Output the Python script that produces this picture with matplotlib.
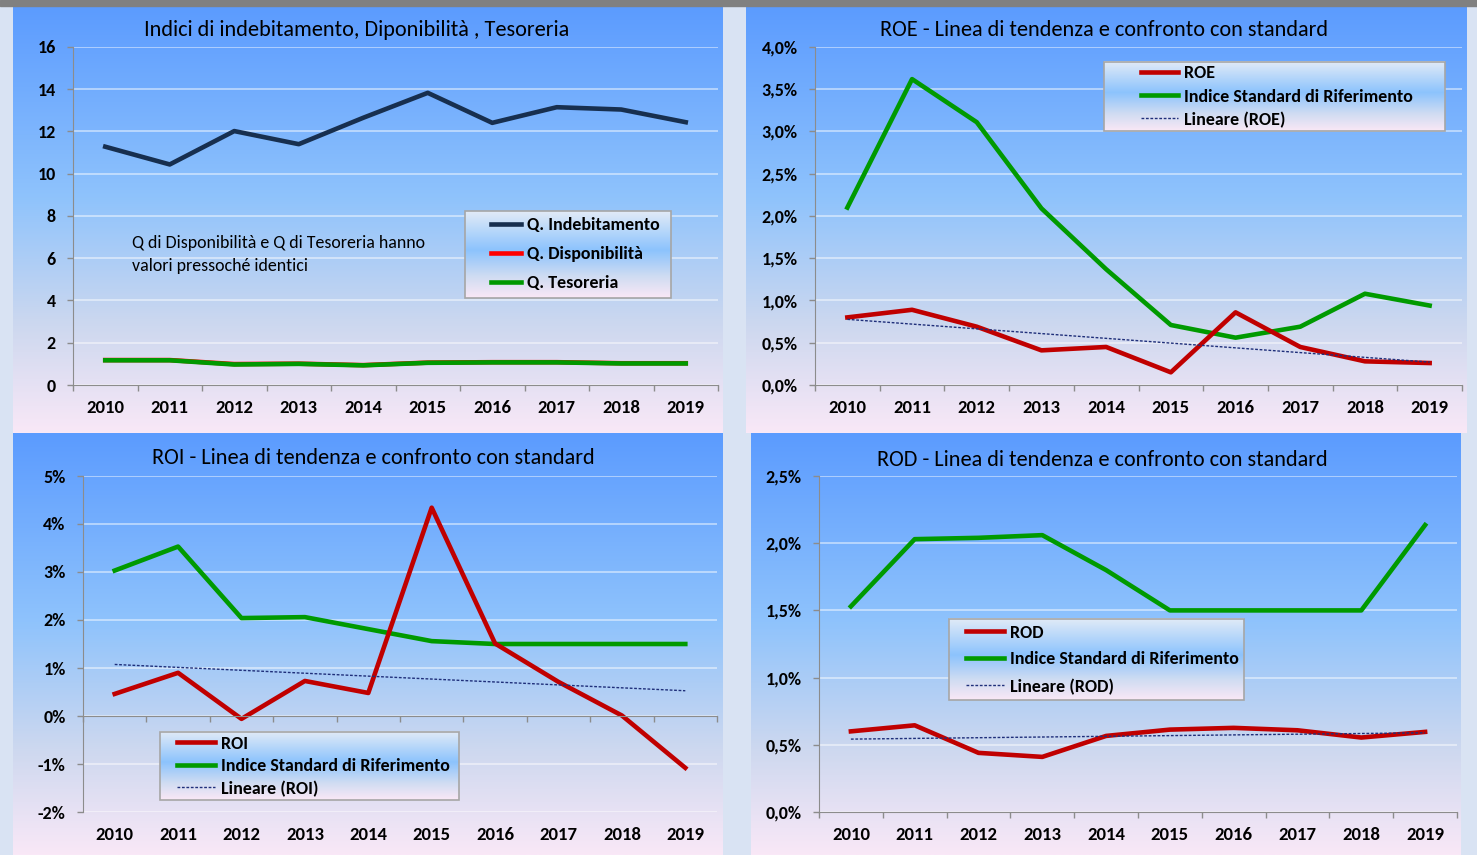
import numpy as np
import matplotlib
matplotlib.use('Agg')
import matplotlib.pyplot as plt
from matplotlib import font_manager
from matplotlib.colors import LinearSegmentedColormap
from matplotlib.patches import Rectangle
from matplotlib.transforms import offset_copy
from matplotlib.legend_handler import HandlerLine2D

# ---- data ----
years = ['2010', '2011', '2012', '2013', '2014', '2015', '2016', '2017', '2018', '2019']

q_indebitamento = [11.28, 10.44, 12.02, 11.40, 12.65, 13.83, 12.41, 13.15, 13.04, 12.44]
q_disponibilita = [1.18, 1.18, 0.99, 1.01, 0.94, 1.06, 1.08, 1.08, 1.03, 1.03]
q_tesoreria = [1.17, 1.17, 0.97, 1.00, 0.93, 1.05, 1.07, 1.07, 1.02, 1.02]

roe = [0.80, 0.89, 0.69, 0.41, 0.45, 0.15, 0.86, 0.45, 0.28, 0.26]
roe_std = [2.10, 3.62, 3.11, 2.09, 1.37, 0.71, 0.56, 0.69, 1.08, 0.94]

roi = [0.46, 0.90, -0.06, 0.73, 0.48, 4.34, 1.51, 0.71, 0.01, -1.08]
roi_std = [3.03, 3.53, 2.04, 2.06, 1.81, 1.56, 1.50, 1.50, 1.50, 1.50]

rod = [0.60, 0.645, 0.44, 0.41, 0.566, 0.613, 0.626, 0.608, 0.554, 0.596]
rod_std = [1.53, 2.03, 2.04, 2.06, 1.80, 1.50, 1.50, 1.50, 1.50, 2.135]

# ---- font: something Calibri-like if we have it ----
available = {f.name for f in font_manager.fontManager.ttflist}
font = 'DejaVu Sans'
for name in ['Carlito', 'Liberation Sans Narrow', 'Open Sans', 'Noto Sans']:
    if name in available:
        font = name
        break
plt.rcParams['font.family'] = [font, 'DejaVu Sans']

W, H = 1477, 855
fig = plt.figure(figsize=(W / 100, H / 100), dpi=100, facecolor='#d9e3f3')

panel_cmap = LinearSegmentedColormap.from_list(
    'panel', [(0, '#5b9bff'), (0.45, '#8fc3fc'), (0.75, '#cdd8ef'), (1, '#f9e8f7')])
legend_cmap = LinearSegmentedColormap.from_list(
    'leg', [(0, '#e2ebf7'), (0.45, '#8cc3fd'), (0.75, '#cfdcf2'), (1, '#fae8f6')])
grad = np.linspace(0, 1, 256).reshape(-1, 1)

LEG_FS = 13
FS_PX = LEG_FS * 100 / 72


def rect(x0, y0, x1, y1):
    return [x0 / W, 1 - y1 / H, (x1 - x0) / W, (y1 - y0) / H]


fig.patches.append(Rectangle((0, 1 - 6 / H), 1, 6 / H, transform=fig.transFigure,
                             color='#808080', zorder=0))


def panel(box, title, title_x, title_y):
    bax = fig.add_axes(rect(*box), zorder=0)
    bax.imshow(grad, cmap=panel_cmap, aspect='auto', extent=(0, 1, 0, 1))
    bax.axis('off')
    fig.text(title_x / W, 1 - title_y / H, title, ha='center', va='center',
             fontsize=16, color='black')


def plot_axes(box, ylim, yticks, fmt, zero_axis=False):
    ax = fig.add_axes(rect(*box), zorder=1)
    ax.set_facecolor('none')
    for s in ['top', 'right']:
        ax.spines[s].set_visible(False)
    for s in ['left', 'bottom']:
        ax.spines[s].set_color('#8c8c8c')
    if zero_axis:
        ax.spines['bottom'].set_position(('data', 0))
    ax.set_xlim(-0.5, 9.5)
    ax.set_ylim(*ylim)
    ax.set_xticks(np.arange(-0.5, 10))
    ax.set_xticklabels([])
    ax.set_yticks(yticks)
    ax.set_yticklabels([fmt(v) for v in yticks], fontweight='bold', fontsize=13)
    ax.tick_params(axis='both', direction='out', length=4, width=1, color='#8c8c8c')
    ax.tick_params(axis='y', pad=8.5)
    ax.yaxis.grid(True, color='white', alpha=0.55, lw=1.2)
    ax.set_axisbelow(True)
    tr = offset_copy(ax.get_xaxis_transform(), fig=fig, y=-23, units='dots')
    for i, y in enumerate(years):
        ax.text(i, 0, y, transform=tr, ha='center', va='center', fontsize=13.5,
                fontweight='bold')
    ax.set_autoscale_on(False)
    return ax


def add_legend(ax, handles, labels, box, lead, length, pitch, top):
    # box is (x0, y_top, x1) in pixels; lead/length of the sample line in pixels
    x0, y0, x1 = box
    pos = ax.get_position()
    ax_x0, ax_w = pos.x0 * W, pos.width * W
    ax_ytop, ax_h = (1 - pos.y1) * H, pos.height * H
    anchor = ((x0 - ax_x0) / ax_w, 0, (x1 - x0) / ax_w, 1 - (y0 - ax_ytop) / ax_h)
    hmap = {h: HandlerLine2D(xpad=lead / FS_PX) for h in handles}
    leg = ax.legend(handles, labels, loc='upper left', bbox_to_anchor=anchor, mode='expand',
                    borderaxespad=0, fancybox=False, framealpha=1, facecolor='none',
                    edgecolor='#a6a6a6', handlelength=(lead + length) / FS_PX,
                    handletextpad=0.35, labelspacing=(pitch - 17) / FS_PX,
                    borderpad=(top - 8.5) / FS_PX, handler_map=hmap,
                    prop={'weight': 'bold', 'size': LEG_FS})
    leg.get_frame().set_linewidth(1.2)
    leg.set_zorder(5)
    return leg


def pct(decimals):
    return lambda v: ('{:.%df}%%' % decimals).format(v).replace('.', ',')


x = np.arange(len(years))
red = '#c00000'
green = '#009a00'
trend_col = '#1f2f7a'
lw = 3.3

# ---- panel 1 ----
panel((13, 6, 723, 433), 'Indici di indebitamento, Diponibilità , Tesoreria', 357, 30)
ax1 = plot_axes((73, 47, 718, 385), (0, 16), range(0, 17, 2), lambda v: str(v))
h1, = ax1.plot(x, q_indebitamento, color='#172f4f', lw=lw)
h2, = ax1.plot(x, q_disponibilita, color='#ff0000', lw=lw)
h3, = ax1.plot(x, q_tesoreria, color='#009900', lw=lw)
leg1 = add_legend(ax1, [h1, h2, h3], ['Q. Indebitamento', 'Q. Disponibilità', 'Q. Tesoreria'],
                  (465, 211, 671), 19, 30, 30, 15)
fig.text(132 / W, 1 - 235 / H, 'Q di Disponibilità e Q di Tesoreria hanno\nvalori pressoché identici',
         ha='left', va='top', fontsize=12.9, linespacing=1.56)

# ---- panel 2 ----
panel((746, 6, 1466, 433), 'ROE - Linea di tendenza e confronto con standard', 1104, 30)
ax2 = plot_axes((815, 47, 1462, 385), (0, 4), np.arange(0, 4.01, 0.5), pct(1))
g2, = ax2.plot(x, roe_std, color=green, lw=lw)
r2, = ax2.plot(x, roe, color=red, lw=lw)
t2, = ax2.plot(x, np.polyval(np.polyfit(x, roe, 1), x), color=trend_col, lw=1,
               ls=(0, (2, 1.2)))
leg2 = add_legend(ax2, [r2, g2, t2], ['ROE', 'Indice Standard di Riferimento', 'Lineare (ROE)'],
                  (1104, 62, 1445), 33, 37, 24, 12)

# ---- panel 3 ----
panel((13, 433, 723, 855), 'ROI - Linea di tendenza e confronto con standard', 373, 458)
ax3 = plot_axes((83, 476, 717, 812), (-2, 5), range(-2, 6), pct(0), zero_axis=True)
g3, = ax3.plot(x, roi_std, color=green, lw=lw)
r3, = ax3.plot(x, roi, color=red, lw=lw)
t3, = ax3.plot(x, np.polyval(np.polyfit(x, roi, 1), x), color=trend_col, lw=1,
               ls=(0, (2, 1.2)))
leg3 = add_legend(ax3, [r3, g3, t3], ['ROI', 'Indice Standard di Riferimento', 'Lineare (ROI)'],
                  (160, 732, 459), 13, 38, 23.5, 12)

# ---- panel 4 ----
panel((751, 433, 1460, 855), 'ROD - Linea di tendenza e confronto con standard', 1102, 460)
ax4 = plot_axes((819, 476, 1457, 812), (0, 2.5), np.arange(0, 2.51, 0.5), pct(1))
g4, = ax4.plot(x, rod_std, color=green, lw=lw)
r4, = ax4.plot(x, rod, color=red, lw=lw)
t4, = ax4.plot(x, np.polyval(np.polyfit(x, rod, 1), x), color=trend_col, lw=1,
               ls=(0, (2, 1.2)))
leg4 = add_legend(ax4, [r4, g4, t4], ['ROD', 'Indice Standard di Riferimento', 'Lineare (ROD)'],
                  (949, 619, 1244), 11, 38, 28, 14)

# gradient fill behind each legend
fig.canvas.draw()
for ax, leg in [(ax1, leg1), (ax2, leg2), (ax3, leg3), (ax4, leg4)]:
    bb = leg.get_frame().get_window_extent()
    (bx0, by0), (bx1, by1) = ax.transAxes.inverted().transform(bb.get_points())
    ax.imshow(grad, cmap=legend_cmap, aspect='auto', extent=(bx0, bx1, by0, by1),
              transform=ax.transAxes, zorder=4.5)

fig.savefig('out.png', dpi=100, facecolor=fig.get_facecolor())
